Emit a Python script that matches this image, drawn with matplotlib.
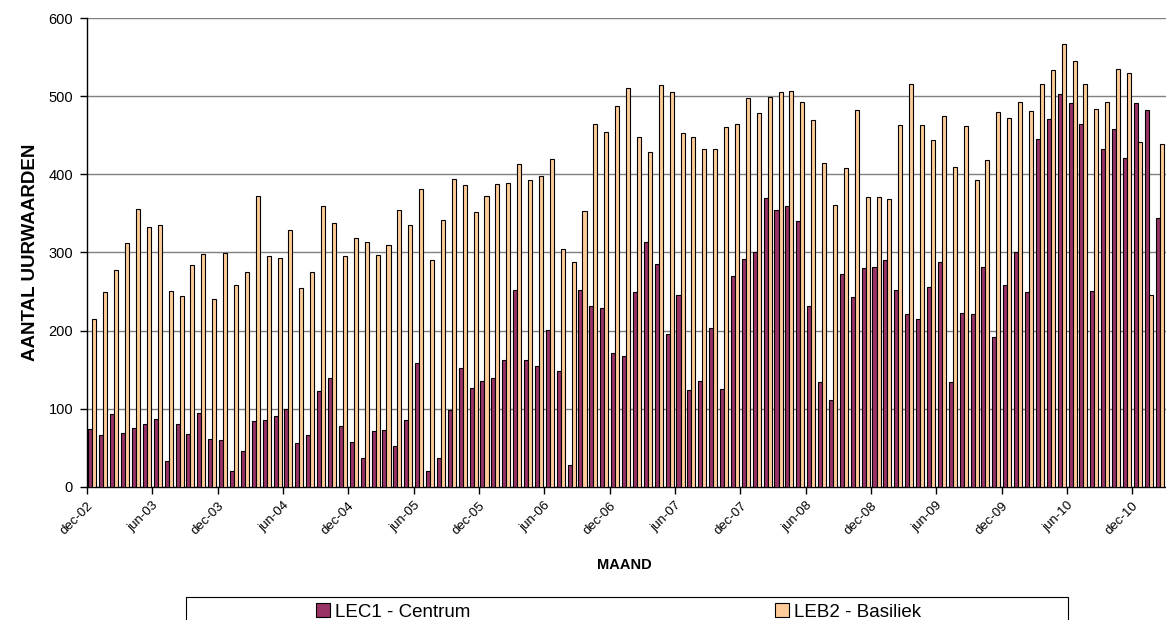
import matplotlib
matplotlib.use("Agg")
import matplotlib.pyplot as plt
from matplotlib.patches import Patch, Rectangle
import numpy as np

# Monthly values, dec-02 .. feb-11
lec1 = [74, 67, 94, 69, 76, 81, 87, 33, 80, 68, 95, 61,
        60, 21, 46, 84, 86, 91, 100, 56, 67, 123, 140, 78,
        58, 37, 72, 73, 53, 86, 158, 21, 37, 99, 152, 127,
        135, 139, 162, 252, 162, 155, 201, 149, 28, 252, 231, 229,
        172, 167, 250, 313, 285, 196, 246, 124, 136, 204, 126, 270,
        292, 300, 370, 355, 359, 340, 231, 134, 111, 273, 243, 280,
        281, 291, 252, 221, 215, 256, 288, 134, 222, 221, 281, 192,
        258, 300, 250, 445, 471, 503, 491, 465, 251, 433, 458, 421,
        491, 482, 344]
leb2 = [215, 249, 278, 312, 356, 332, 335, 251, 244, 284, 298, 240,
        299, 259, 275, 372, 295, 293, 329, 255, 275, 359, 338, 295,
        319, 313, 297, 309, 355, 335, 381, 290, 341, 394, 386, 352,
        372, 388, 389, 413, 393, 398, 420, 305, 288, 353, 465, 454,
        487, 510, 448, 428, 514, 505, 453, 448, 433, 433, 460, 465,
        498, 478, 499, 505, 507, 493, 469, 414, 361, 408, 482, 371,
        371, 368, 463, 516, 463, 444, 475, 410, 462, 393, 418, 480,
        472, 492, 481, 516, 534, 567, 545, 516, 484, 493, 535, 529,
        441, 246, 439]
tick_labels = ["dec-02", "jun-03", "dec-03", "jun-04", "dec-04", "jun-05",
               "dec-05", "jun-06", "dec-06", "jun-07", "dec-07", "jun-08",
               "dec-08", "jun-09", "dec-09", "jun-10", "dec-10"]
series_names = ["LEC1 - Centrum", "LEB2 - Basiliek"]
colors = ["#993366", "#FFCC99"]

plt.rcParams['font.family'] = ['Liberation Sans', 'DejaVu Sans']

W, H = 1166, 620
fig = plt.figure(figsize=(W / 100, H / 100), dpi=100)
left, right, top, bottom = 87, 1166, 18, 487
ax = fig.add_axes([left / W, 1 - bottom / H, (right - left) / W, (bottom - top) / H])

n = len(lec1)
x = np.arange(n) + 0.5
bw = 0.37
ax.bar(x - bw / 2, lec1, width=bw, color=colors[0], edgecolor="black", linewidth=0.8, zorder=3)
ax.bar(x + bw / 2, leb2, width=bw, color=colors[1], edgecolor="black", linewidth=0.8, zorder=3)

ax.set_xlim(0, (right - left) / 10.89)
ax.set_ylim(0, 600)
ax.set_yticks(np.arange(0, 601, 100))
ax.yaxis.grid(True, color="#808080", linewidth=1.0, zorder=0)
ax.set_axisbelow(True)
ax.set_xticks(np.arange(len(tick_labels)) * 6)
ax.set_xticklabels(tick_labels, rotation=45, ha="right", va="top", rotation_mode="anchor", fontsize=9.5)
ax.tick_params(axis="y", labelsize=10.5, length=5, width=1, direction="out", pad=5)
ax.tick_params(axis="x", length=5, width=1, direction="out", pad=4)
for s in ["top", "right"]:
    ax.spines[s].set_visible(False)
for s in ["left", "bottom"]:
    ax.spines[s].set_color("black")
    ax.spines[s].set_linewidth(1)

fig.text(31 / W, 1 - 252 / H, "AANTAL UURWAARDEN", rotation=90, ha="center", va="center",
         fontsize=13.5, fontweight="bold")
fig.text(624 / W, 1 - 565 / H, "MAAND", ha="center", va="center", fontsize=10.5, fontweight="bold")

# legend frame
fig.patches.append(Rectangle((186 / W, -0.05), (1068 - 186) / W, 0.05 + (620 - 597) / H,
                             transform=fig.transFigure, facecolor="white", edgecolor="black",
                             linewidth=0.8))
for name, col, cx in zip(series_names, colors, [393, 848]):
    fig.legend(handles=[Patch(facecolor=col, edgecolor="black", linewidth=0.8, label=name)],
               loc="center", bbox_to_anchor=(cx / W, 1 - 612 / H), frameon=False,
               fontsize=13.5, handlelength=0.75, handleheight=0.75, handletextpad=0.25,
               borderpad=0)

fig.savefig("out.png", dpi=100)
